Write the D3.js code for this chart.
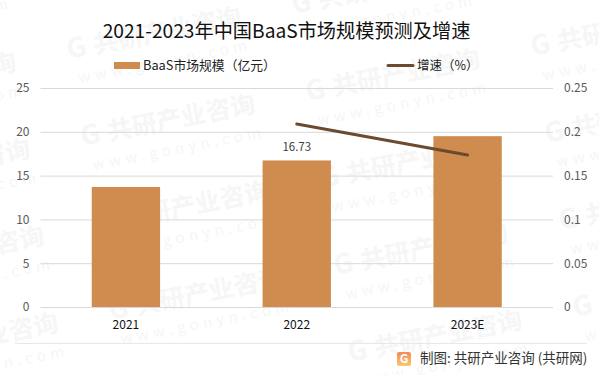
<!DOCTYPE html>
<html>
<head>
<meta charset="utf-8">
<script src="https://cdn.jsdelivr.net/npm/d3@7"></script>
<style>
  body { margin: 0; background: #fff; }
  text { font-family: "Noto Sans CJK SC", "Open Sans", sans-serif; }
</style>
</head>
<body>
<div id="chart"></div>
<script>
// chart data
const years = ["2021", "2022", "2023E"];
const marketSize = [13.7, 16.73, 19.5];
const growthYears = ["2022", "2023E"];
const growthRate = [0.209, 0.1735];
const leftTicks = [0, 5, 10, 15, 20, 25];
const rightTicks = [0, 0.05, 0.1, 0.15, 0.2, 0.25];
const labelledBars = ["2022"];

const width = 599, height = 375;
const plot = { left: 40.5, right: 553, top: 88, bottom: 307 };
const barColor = "#d08b4f", lineColor = "#6b4a2f", gridColor = "#d9d9d9";

const svg = d3.select("#chart").append("svg")
    .attr("width", width)
    .attr("height", height)
    .style("display", "block");

// Background watermark, repeated on a slanted lattice
const wm = svg.append("g").attr("fill", "#f6f6f6");
for (let i = -2; i <= 3; i++) {
    for (let j = -1; j <= 4; j++) {
        const x = 67 + i * 225 + j * 14;
        const y = 50 - i * 45 + j * 87;
        if (x < -190 || x > width - 10 || y < 5 || y > height - 5) continue;
        const g = wm.append("g").attr("transform", `translate(${x},${y}) rotate(-11)`);
        g.append("text").attr("y", 9).attr("font-size", 27).attr("font-weight", 700).text("G");
        g.append("text").attr("x", 27).attr("y", 9).attr("font-size", 25).attr("font-weight", 700).text("共研产业咨询");
        g.append("text").attr("x", 6).attr("y", 35).attr("font-size", 15).attr("letter-spacing", 4.5).text("www.gonyn.com");
    }
}

// Scales
const x = d3.scaleBand().domain(years).range([plot.left, plot.right]).paddingInner(0.6).paddingOuter(0.3);
const yLeft = d3.scaleLinear().domain([0, 25]).range([plot.bottom, plot.top]);
const yRight = d3.scaleLinear().domain([0, 0.25]).range([plot.bottom, plot.top]);
const cx = d => x(d) + x.bandwidth() / 2;

// Grid lines
svg.append("g")
    .attr("transform", `translate(${plot.left},0)`)
    .call(d3.axisLeft(yLeft).tickValues(leftTicks).tickSize(-(plot.right - plot.left)).tickFormat(""))
    .call(g => g.select(".domain").remove())
    .selectAll("line")
    .attr("stroke", gridColor);

// Bars
svg.append("g").selectAll("rect")
    .data(years)
    .enter().append("rect")
    .attr("x", d => x(d))
    .attr("y", (d, i) => yLeft(marketSize[i]))
    .attr("width", x.bandwidth())
    .attr("height", (d, i) => plot.bottom - yLeft(marketSize[i]))
    .attr("fill", barColor);

// Bar value label, only one is shown
svg.append("g").selectAll("text")
    .data(labelledBars)
    .enter().append("text")
    .attr("x", cx)
    .attr("y", d => yLeft(marketSize[years.indexOf(d)]) - 9)
    .attr("text-anchor", "middle")
    .attr("font-size", 11.5)
    .attr("fill", "#404040")
    .text(d => marketSize[years.indexOf(d)]);

// Growth line
const line = d3.line().x(d => cx(d.year)).y(d => yRight(d.value));
svg.append("path")
    .datum(growthYears.map((year, i) => ({ year, value: growthRate[i] })))
    .attr("d", line)
    .attr("fill", "none")
    .attr("stroke", lineColor)
    .attr("stroke-width", 3)
    .attr("stroke-linecap", "round");

// Axes
svg.append("g")
    .attr("transform", `translate(${plot.left},0)`)
    .call(d3.axisLeft(yLeft).tickValues(leftTicks).tickSize(0).tickPadding(11))
    .call(g => g.select(".domain").remove())
    .selectAll("text")
    .attr("font-size", 12)
    .attr("fill", "#595959");

svg.append("g")
    .attr("transform", `translate(${plot.right},0)`)
    .call(d3.axisRight(yRight).tickValues(rightTicks).tickSize(0).tickPadding(11).tickFormat(d => String(d)))
    .call(g => g.select(".domain").remove())
    .selectAll("text")
    .attr("font-size", 12)
    .attr("fill", "#595959");

svg.append("g")
    .attr("transform", `translate(0,${plot.bottom})`)
    .call(d3.axisBottom(x).tickSize(0).tickPadding(13))
    .call(g => g.select(".domain").remove())
    .selectAll("text")
    .attr("font-size", 12)
    .attr("fill", "#111");

// Title
svg.append("text")
    .attr("x", 286.5)
    .attr("y", 38)
    .attr("text-anchor", "middle")
    .attr("font-size", 19.2)
    .attr("fill", "#111")
    .text("2021-2023年中国BaaS市场规模预测及增速");

// Legend
svg.append("rect").attr("x", 114).attr("y", 62).attr("width", 26).attr("height", 7).attr("fill", barColor);
svg.append("text").attr("x", 143).attr("y", 70).attr("font-size", 12.8).attr("fill", "#222").text("BaaS市场规模（亿元）");
svg.append("line").attr("x1", 388).attr("x2", 413).attr("y1", 65.5).attr("y2", 65.5)
    .attr("stroke", lineColor).attr("stroke-width", 3).attr("stroke-linecap", "round");
svg.append("text").attr("x", 417).attr("y", 70).attr("font-size", 12.5).attr("fill", "#222").text("增速（%）");

// Footer
svg.append("line").attr("x1", 15).attr("x2", 587).attr("y1", 343.5).attr("y2", 343.5)
    .attr("stroke", "#e8e8e8");
const grad = svg.append("defs").append("linearGradient").attr("id", "logoGrad").attr("x1", 0).attr("x2", 0).attr("y1", 0).attr("y2", 1);
grad.append("stop").attr("offset", 0).attr("stop-color", "#f28a5a");
grad.append("stop").attr("offset", 1).attr("stop-color", "#f9c86a");
svg.append("rect").attr("x", 397).attr("y", 352).attr("width", 14).attr("height", 14).attr("rx", 2).attr("fill", "url(#logoGrad)");
svg.append("text").attr("x", 404).attr("y", 363).attr("text-anchor", "middle").attr("font-size", 12).attr("font-weight", 700).attr("fill", "#fff").text("G");
svg.append("text").attr("x", 420).attr("y", 363).attr("font-size", 13.5).attr("fill", "#333").text("制图: 共研产业咨询 (共研网)");
</script>
</body>
</html>
